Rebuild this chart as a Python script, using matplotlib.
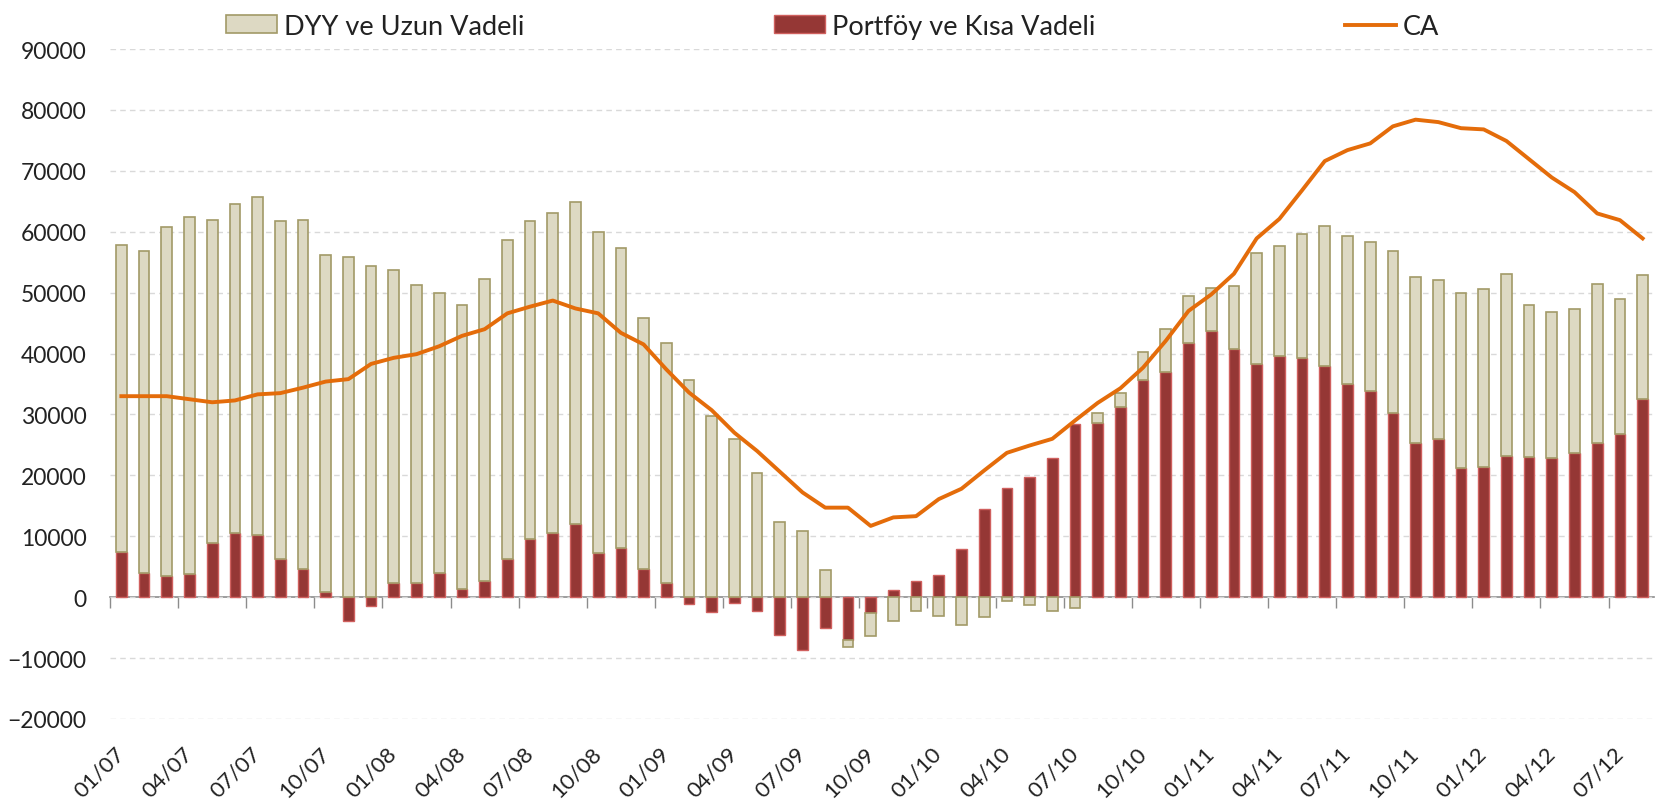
import numpy as np
import matplotlib
matplotlib.use("Agg")
import matplotlib.pyplot as plt
from matplotlib.patches import Patch
from matplotlib.lines import Line2D

plt.rcParams['font.family'] = ['Lato', 'DejaVu Sans']

# monthly data, 01/2007 .. 08/2012
portfoy = [7500, 4000, 3400, 3800, 8900, 10500, 10200, 6300, 4600, 800,
           -3900, -1500, 2400, 2300, 4000, 1400, 2600, 6300, 9600, 10500,
           12000, 7300, 8100, 4600, 2400, -1100, -2500, -900, -2300, -6200,
           -8700, -5000, -7100, -2600, 1200, 2700, 3700, 7900, 14400, 18000,
           19700, 22900, 28500, 28600, 31300, 35600, 37000, 41800, 43700, 40800,
           38300, 39600, 39300, 37900, 35000, 33800, 30300, 25300, 25900, 21200,
           21400, 23100, 23000, 22900, 23700, 25300, 26800, 32500]

dyy = [50400, 52800, 57300, 58600, 53100, 54100, 55500, 55500, 57400, 55400,
       55800, 54400, 51300, 49000, 46000, 46600, 49700, 52400, 52200, 52500,
       52900, 52600, 49200, 41300, 39400, 35700, 29800, 26000, 20400, 12400,
       10900, 4400, -1000, -3800, -3900, -2300, -3100, -4600, -3300, -700,
       -1300, -2300, -1700, 1700, 2300, 4600, 7100, 7700, 7000, 10300,
       18200, 18100, 20400, 23000, 24300, 24500, 26500, 27300, 26100, 28800,
       29200, 30000, 25000, 24000, 23600, 26100, 22200, 20400]

ca = [33000, 33000, 33000, 32500, 32000, 32300, 33300, 33500, 34400, 35400,
      35800, 38300, 39300, 39900, 41200, 42900, 44000, 46600, 47700, 48700,
      47400, 46600, 43400, 41500, 37400, 33600, 30700, 27000, 24000, 20600,
      17200, 14700, 14700, 11700, 13100, 13300, 16100, 17800, 20800, 23700,
      24900, 26000, 29000, 31900, 34300, 37700, 42100, 47000, 49700, 53100,
      58900, 62100, 66800, 71600, 73400, 74500, 77300, 78400, 78000, 77000,
      76800, 74900, 71900, 68900, 66500, 63000, 61900, 58900]

quarter_labels = ['01/07', '04/07', '07/07', '10/07', '01/08', '04/08', '07/08', '10/08',
                  '01/09', '04/09', '07/09', '10/09', '01/10', '04/10', '07/10', '10/10',
                  '01/11', '04/11', '07/11', '10/11', '01/12', '04/12', '07/12']

red = np.array(portfoy)
beige = np.array(dyy)
x = np.arange(len(red))

beige_bottom = np.where(beige >= 0, np.maximum(red, 0), np.minimum(red, 0))

fig = plt.figure(figsize=(16.65, 8.03), dpi=100)
ax = fig.add_axes([110 / 1665, 1 - 720 / 803, (1654 - 110) / 1665, (720 - 50) / 803])

w = 0.47
ax.bar(x, red, w, color='#953735', edgecolor='#d0605e', linewidth=1, zorder=3)
ax.bar(x, beige, w, bottom=beige_bottom, color='#ddd9c3', edgecolor='#a29a67',
       linewidth=1.2, zorder=3)
ax.plot(x, ca, color='#e46c0a', linewidth=2.8, zorder=4, solid_joinstyle='round')

ax.set_xlim(-0.5, len(x) - 0.5)
ax.set_ylim(-20000, 90000)
ax.set_yticks(np.arange(-20000, 90001, 10000))
ax.yaxis.grid(True, color='#d9d9d9', linestyle=(0, (4, 3)), linewidth=1)
ax.set_axisbelow(True)
for s in ax.spines.values():
    s.set_visible(False)
ax.tick_params(axis='y', length=0, pad=17, labelsize=16.5, labelcolor='#222222')

# category labels at the bottom of the plot
ax.set_xticks(x[::3])
ax.set_xticklabels(quarter_labels)
ax.tick_params(axis='x', length=0, pad=22, labelsize=16, labelcolor='#222222')
plt.setp(ax.get_xticklabels(), rotation=45, ha='right', va='center', rotation_mode='anchor')

# zero axis line with tick marks between categories
zero_frac = 20000 / 110000
sec = ax.secondary_xaxis(zero_frac)
sec.set_xticks(np.arange(-0.5, len(x) - 1, 3))
sec.tick_params(axis='x', length=8, width=1, color='#8c8c8c', labelbottom=False,
                direction='out')
sec.spines['bottom'].set_color('#8c8c8c')
sec.spines['bottom'].set_linewidth(1.2)

handles = [Patch(facecolor='#ddd9c3', edgecolor='#a29a67', linewidth=1.2),
           Patch(facecolor='#953735', edgecolor='#d0605e', linewidth=1),
           Line2D([], [], color='#e46c0a', linewidth=2.8)]
fig.legend(handles, ['DYY ve Uzun Vadeli', 'Portföy ve Kısa Vadeli', 'CA'],
           loc='upper center', bbox_to_anchor=(0.5, 1.012), ncol=3, frameon=False,
           fontsize=19.5, handlelength=1.9, handleheight=0.63, handletextpad=0.26,
           columnspacing=9.2, labelcolor='#222222')

fig.savefig('out.png', dpi=100)
